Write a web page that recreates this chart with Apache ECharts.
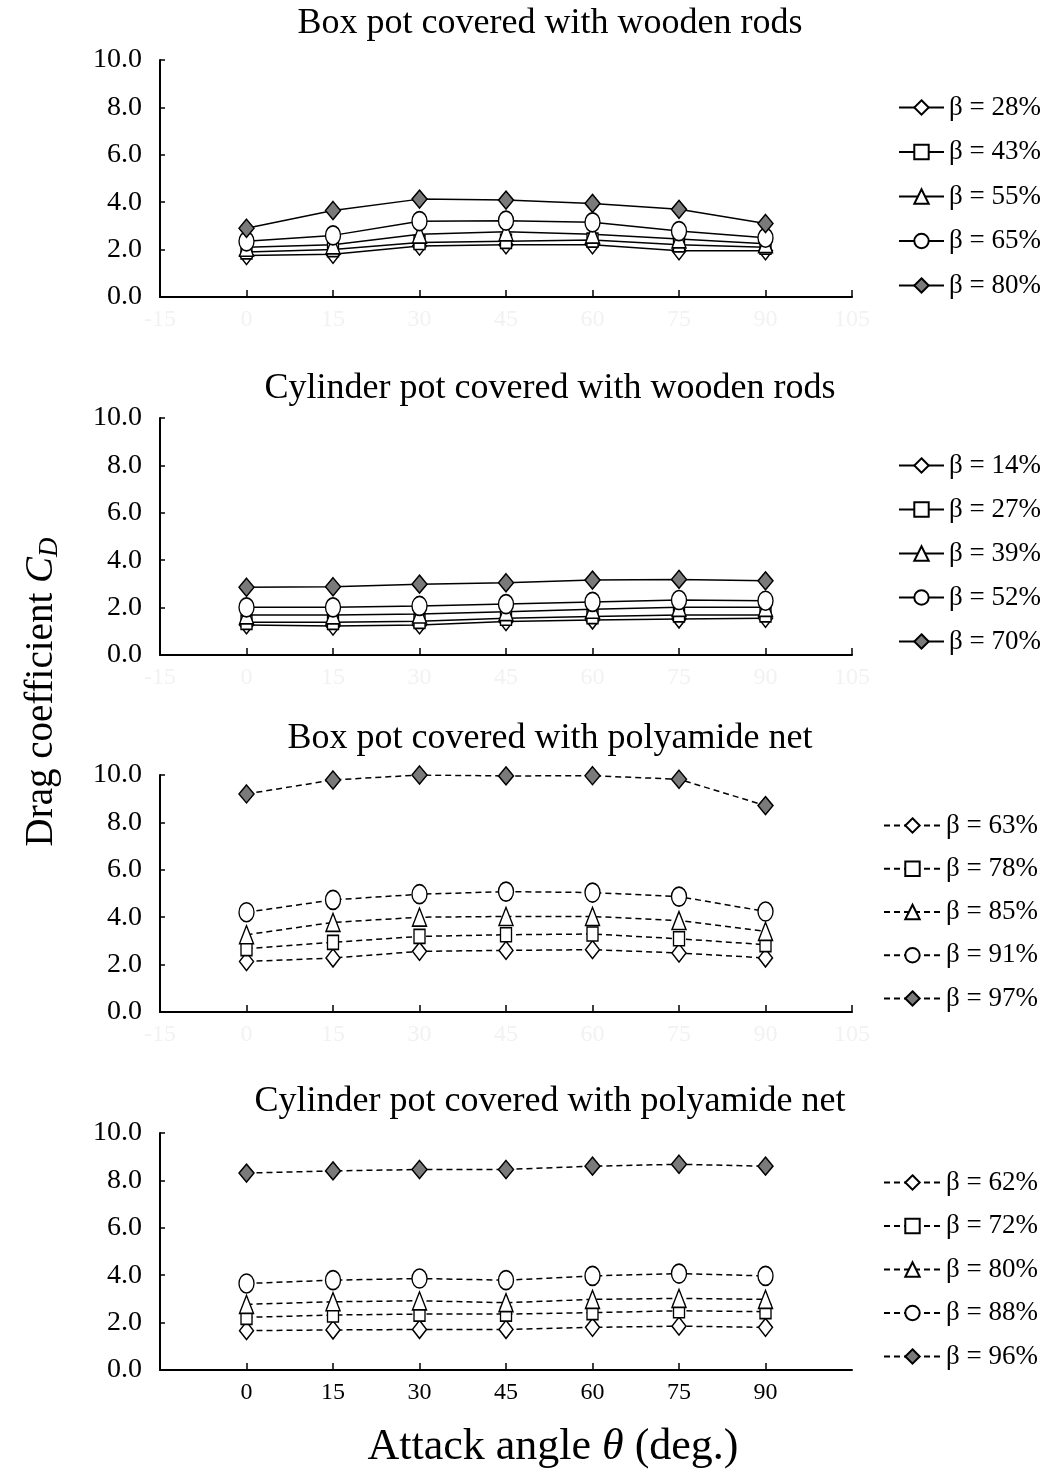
<!DOCTYPE html>
<html>
<head>
<meta charset="utf-8">
<script src="https://cdn.jsdelivr.net/npm/echarts@6/dist/echarts.min.js"></script>
<style>
  html, body { margin: 0; padding: 0; background: #ffffff; }
  #chart { width: 1045px; height: 1474px; }
</style>
</head>
<body>
<div id="chart"></div>
<script>
// ---------------- DATA ----------------
const angles = [0, 15, 30, 45, 60, 75, 90];
const xTicks = [-15, 0, 15, 30, 45, 60, 75, 90, 105];
const yTicks = [0, 2, 4, 6, 8, 10];

const panelTitles = [
  'Box pot covered with wooden rods',
  'Cylinder pot covered with wooden rods',
  'Box pot covered with polyamide net',
  'Cylinder pot covered with polyamide net'
];

// Panel 1: Box pot, wooden rods (solid)
const p1Labels = ['β = 28%', 'β = 43%', 'β = 55%', 'β = 65%', 'β = 80%'];
const p1_b28 = [1.75, 1.80, 2.15, 2.20, 2.20, 1.95, 1.95];
const p1_b43 = [1.90, 2.00, 2.30, 2.35, 2.40, 2.20, 2.10];
const p1_b55 = [2.10, 2.20, 2.65, 2.75, 2.65, 2.45, 2.25];
const p1_b65 = [2.35, 2.60, 3.20, 3.22, 3.15, 2.78, 2.50];
const p1_b80 = [2.90, 3.65, 4.13, 4.09, 3.95, 3.70, 3.10];

// Panel 2: Cylinder pot, wooden rods (solid)
const p2Labels = ['β = 14%', 'β = 27%', 'β = 39%', 'β = 52%', 'β = 70%'];
const p2_b14 = [1.27, 1.22, 1.27, 1.41, 1.48, 1.52, 1.55];
const p2_b27 = [1.38, 1.38, 1.42, 1.55, 1.62, 1.69, 1.69];
const p2_b39 = [1.69, 1.69, 1.73, 1.83, 1.93, 2.01, 2.01];
const p2_b52 = [2.01, 2.01, 2.07, 2.15, 2.24, 2.32, 2.29];
const p2_b70 = [2.86, 2.88, 2.99, 3.05, 3.16, 3.19, 3.13];

// Panel 3: Box pot, polyamide net (dashed)
const p3Labels = ['β = 63%', 'β = 78%', 'β = 85%', 'β = 91%', 'β = 97%'];
const p3_b63 = [2.13, 2.28, 2.56, 2.60, 2.63, 2.49, 2.28];
const p3_b78 = [2.67, 2.94, 3.19, 3.26, 3.29, 3.09, 2.84];
const p3_b85 = [3.26, 3.78, 4.00, 4.03, 4.03, 3.86, 3.40];
const p3_b91 = [4.21, 4.73, 4.97, 5.08, 5.04, 4.87, 4.24];
const p3_b97 = [9.20, 9.79, 10.00, 9.96, 9.97, 9.82, 8.71];

// Panel 4: Cylinder pot, polyamide net (dashed)
const p4Labels = ['β = 62%', 'β = 72%', 'β = 80%', 'β = 88%', 'β = 96%'];
const p4_b62 = [1.66, 1.69, 1.71, 1.71, 1.80, 1.85, 1.80];
const p4_b72 = [2.22, 2.32, 2.36, 2.36, 2.42, 2.50, 2.46];
const p4_b80 = [2.77, 2.88, 2.92, 2.84, 2.98, 3.02, 2.98];
const p4_b88 = [3.65, 3.79, 3.86, 3.79, 3.97, 4.07, 3.97];
const p4_b96 = [8.31, 8.40, 8.46, 8.46, 8.60, 8.68, 8.60];

// ---------------- BUILD ----------------
const panels = [
  { labels: p1Labels, values: [p1_b28, p1_b43, p1_b55, p1_b65, p1_b80], dashed: false },
  { labels: p2Labels, values: [p2_b14, p2_b27, p2_b39, p2_b52, p2_b70], dashed: false },
  { labels: p3Labels, values: [p3_b63, p3_b78, p3_b85, p3_b91, p3_b97], dashed: true },
  { labels: p4Labels, values: [p4_b62, p4_b72, p4_b80, p4_b88, p4_b96], dashed: true }
];

const FONT = '"Liberation Serif", "Times New Roman", serif';
const gridTops = [60, 418, 775, 1133];
const gridH = 237;
const titleCenters = [25, 390, 740, 1103];
const legendTops = [94, 452, 812, 1169];
const legendGaps = [17.5, 17, 16.25, 16.5];

const symbols = [
  { symbol: 'diamond', size: [14, 18], fill: '#ffffff' },
  { symbol: 'rect', size: [11, 14], fill: '#ffffff' },
  { symbol: 'triangle', size: [14, 18], fill: '#ffffff' },
  { symbol: 'circle', size: [15, 19], fill: '#ffffff' },
  { symbol: 'diamond', size: [15, 18], fill: '#7a7a7a' }
];

const grids = [], xAxes = [], yAxes = [], series = [], legends = [], titles = [];

panels.forEach((p, i) => {
  grids.push({ left: 160, width: 692, top: gridTops[i], height: gridH, containLabel: false });
  titles.push({
    text: panelTitles[i],
    left: 550, top: titleCenters[i] - 19, textAlign: 'center', padding: 0,
    textStyle: { fontFamily: FONT, fontSize: 36, fontWeight: 'normal', color: '#000' }
  });
  const isLast = i === panels.length - 1;
  xAxes.push({
    type: 'value', gridIndex: i, min: xTicks[0], max: xTicks[xTicks.length - 1], interval: 15,
    axisLine: { show: true, onZero: false, lineStyle: { color: '#000', width: 2 } },
    axisTick: { show: true, inside: true, length: 7, lineStyle: { color: '#000', width: 1.5 } },
    splitLine: { show: false },
    axisLabel: {
      margin: 11, fontFamily: FONT, fontSize: 24,
      color: isLast ? '#000' : '#f2f2f2',
      showMinLabel: !isLast, showMaxLabel: !isLast
    }
  });
  yAxes.push({
    type: 'value', gridIndex: i, min: yTicks[0], max: yTicks[yTicks.length - 1], interval: 2,
    axisLine: { show: true, onZero: false, lineStyle: { color: '#000', width: 2 } },
    axisTick: { show: true, inside: true, length: 5, lineStyle: { color: '#000', width: 1.5 } },
    splitLine: { show: false },
    axisLabel: { margin: 18, fontFamily: FONT, fontSize: 28, color: '#000', formatter: v => v.toFixed(1) }
  });
  const names = [];
  p.values.forEach((vals, k) => {
    const name = p.labels[k] + '#' + i;
    names.push(name);
    const s = symbols[k];
    series.push({
      name: name, type: 'line', xAxisIndex: i, yAxisIndex: i,
      data: angles.map((a, j) => [a, vals[j]]),
      symbol: s.symbol, symbolSize: s.size, showAllSymbol: true,
      lineStyle: { color: '#000', width: 1.5, type: p.dashed ? [6, 4] : 'solid' },
      itemStyle: { color: s.fill, borderColor: '#000', borderWidth: 1.5, opacity: 1 },
      emphasis: { disabled: true },
      animation: false
    });
  });
  legends.push({
    data: names, orient: 'vertical', padding: 0,
    left: p.dashed ? 883 : 898, top: legendTops[i],
    itemWidth: p.dashed ? 57 : 45, itemHeight: 18, itemGap: legendGaps[i],
    selectedMode: false,
    formatter: n => n.split('#')[0],
    textStyle: { fontFamily: FONT, fontSize: 27, color: '#000', lineHeight: 22 }
  });
});

const chart = echarts.init(document.getElementById('chart'), null, { renderer: 'canvas' });
chart.setOption({
  backgroundColor: '#ffffff',
  animation: false,
  title: titles,
  grid: grids,
  xAxis: xAxes,
  yAxis: yAxes,
  legend: legends,
  series: series,
  graphic: [
    {
      type: 'text', x: 42, y: 692, rotation: Math.PI / 2,
      style: {
        text: 'Drag coefficient {i|C}{sub|D}',
        font: '39px ' + FONT, fill: '#000', align: 'center', verticalAlign: 'middle',
        rich: {
          i: { fontFamily: FONT, fontSize: 39, fontStyle: 'italic', fill: '#000' },
          sub: { fontFamily: FONT, fontSize: 27, fontStyle: 'italic', fill: '#000', verticalAlign: 'bottom', padding: [15, 0, 0, 0] }
        }
      }
    },
    {
      type: 'text', x: 553, y: 1447,
      style: {
        text: 'Attack angle {i|θ} (deg.)',
        font: '44px ' + FONT, fill: '#000', align: 'center', verticalAlign: 'middle',
        rich: {
          i: { fontFamily: FONT, fontSize: 44, fontStyle: 'italic', fill: '#000' }
        }
      }
    }
  ]
});
</script>
</body>
</html>
